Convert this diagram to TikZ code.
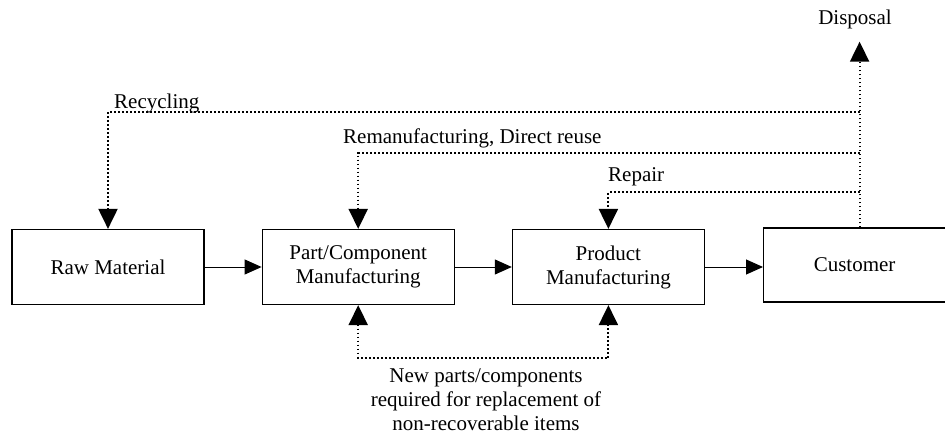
\documentclass[tikz,border=0pt]{standalone}
\usepackage{fontspec}
\setmainfont{Liberation Serif}
\usetikzlibrary{positioning,arrows.meta}

\tikzset{
	stage/.style = {draw, line width=1.2pt, minimum width=192pt, minimum height=75pt, align=center, font=\fontsize{21}{24}\selectfont},
	lbl/.style   = {font=\fontsize{21}{24}\selectfont, inner sep=0pt},
	bigtip/.tip  = {Triangle[length=20pt,width=19pt]},
	flow/.style  = {line width=1pt, -{Triangle[length=17pt,width=15pt]}},
	back/.style  = {line width=2pt, dash pattern=on 1.8pt off 2.2pt, -bigtip},
}

\begin{document}
\begin{tikzpicture}[x=1pt,y=-1pt]
	\useasboundingbox (0,0) rectangle (945,439);
	% main chain
	\node[stage] (rm) at (108,267) {Raw Material};
	\node[stage, right=57pt of rm ] (pcm) {Part/Component\\Manufacturing};
	\node[stage, right=57pt of pcm] (pm) {Product\\Manufacturing};
	\node[stage, right=58pt of pm, minimum width=182pt, minimum height=74pt, yshift=2pt] (cust) {Customer};
	\coordinate[right=5pt of cust.north] (exit); %where the return loops leave the customer
	\node[lbl, anchor=base] (disp) at (855,24) {Disposal};
	% labels of the loops
	\node[lbl, anchor=base west] (lrcy) at (114,108) {Recycling};
	\node[lbl, anchor=base west] (lrem) at (343,143) {Remanufacturing, Direct reuse};
	\node[lbl, anchor=base west] (lrep) at (608,181) {Repair};
	\node[lbl, align=center, anchor=north] (lnew) at (486,368) {New parts/components\\required for replacement of\\non-recoverable items};

	\draw[flow] (rm) -- (pcm);
	\draw[flow] (pcm) -- (pm);
	\draw[flow] (pm.east) -- (pm.east -| cust.west);

	\draw[back, shorten >=13pt] (exit) -- (exit |- disp.south);
	\draw[back] (exit |- 0,112) -| (rm.north);
	\draw[back] (exit |- 0,153) -| (pcm.north);
	\draw[back] (exit |- 0,192) -| (pm.north);
	\draw[back, bigtip-bigtip] (pcm.south) |- (pm.south |- 0,358) -- (pm.south);
\end{tikzpicture}
\end{document}
